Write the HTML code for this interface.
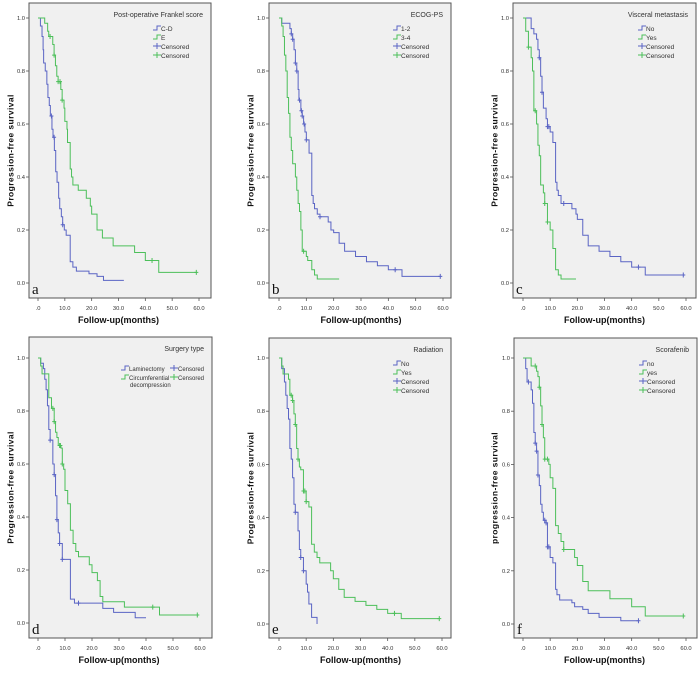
<!DOCTYPE html>
<html><head><meta charset="utf-8">
<style>
html,body{margin:0;padding:0;background:#fff;}
svg{display:block;font-family:"Liberation Sans",sans-serif;}
</style></head>
<body>
<svg id="fig" width="700" height="675" viewBox="0 0 700 675" xmlns="http://www.w3.org/2000/svg"></svg>
<script>
// ---- data: step times (months) and survival after each step, censor times, end time ----
const aBlueT=[0.5,0.9,1.5,1.9,2.1,2.7,3.3,3.7,4.2,4.6,5.2,5.6,6.1,6.6,7.1,7.7,8.1,8.7,9.2,9.8,10.5,12,13,14.3,19,22,24.4];
const aBlueS=[1,0.97,0.93,0.88,0.83,0.8,0.75,0.7,0.67,0.63,0.58,0.55,0.5,0.42,0.38,0.32,0.28,0.25,0.22,0.2,0.18,0.08,0.06,0.045,0.035,0.025,0.01];
const aBlueC=[5.0,6.0,9.2];const aBlueEnd=32;
const aGreenT=[2.5,3,3.6,4,5.5,6,6.5,7,7.5,8.5,9,9.7,10,10.8,11,12,12.5,13,15,18,19.5,20,22,24,28,36,40,45];
const aGreenS=[0.98,0.98,0.95,0.93,0.9,0.86,0.82,0.78,0.76,0.73,0.69,0.66,0.61,0.58,0.53,0.43,0.4,0.37,0.35,0.32,0.29,0.26,0.2,0.17,0.14,0.115,0.085,0.04];
const aGreenC=[4.5,6,7.5,8.2,9,42.5,59];const aGreenEnd=59;

const bBlueT=[1,4,4.5,5,5.5,6,6.5,7,7.3,8,8.5,9,9.5,10,11,12,12.5,13,14,15,18,19,20,22,24,28,32,36,40,45];
const bBlueS=[0.98,0.96,0.94,0.92,0.88,0.83,0.8,0.73,0.69,0.65,0.63,0.6,0.57,0.54,0.49,0.33,0.3,0.28,0.26,0.25,0.23,0.2,0.19,0.15,0.12,0.1,0.08,0.065,0.05,0.025];
const bBlueC=[4.5,5,6,6.5,7.5,8.2,8.5,9.2,10,15,42.5,59];const bBlueEnd=59;
const bGreenT=[1,1.5,2,2.5,3,3.5,4,4.5,5,6,6.5,7,7.5,8,8.5,10,10.5,12,13,14];
const bGreenS=[0.97,0.93,0.86,0.8,0.7,0.64,0.55,0.5,0.45,0.4,0.35,0.3,0.27,0.2,0.12,0.1,0.085,0.05,0.03,0.015];
const bGreenC=[9];const bGreenEnd=22;

const cBlueT=[3,4,5,5.5,6,6.5,7,7.5,8.5,9,10,11,12,12.5,13,14,18,19.5,20,22,24,28,32,36,40,45];
const cBlueS=[0.96,0.94,0.92,0.88,0.85,0.78,0.72,0.66,0.62,0.59,0.57,0.53,0.38,0.35,0.33,0.3,0.28,0.26,0.24,0.18,0.14,0.12,0.1,0.08,0.06,0.03];
const cBlueC=[6,7,9,9.5,15,42.5,59];const cBlueEnd=59;
const cGreenT=[1,2,3,3.5,4,5,5.5,6,6.5,7.5,8,9,10,11,12,13,14];
const cGreenS=[0.95,0.89,0.85,0.8,0.65,0.6,0.52,0.48,0.37,0.34,0.3,0.23,0.2,0.13,0.05,0.03,0.015];
const cGreenC=[2,4.5,8,9];const cGreenEnd=19.5;

const dBlueT=[1,2,2.5,3,3.5,4,4.5,5.5,6,6.5,7,7.5,8,9,12,13.5,24,28,36];
const dBlueS=[0.98,0.96,0.92,0.88,0.82,0.73,0.69,0.6,0.56,0.48,0.39,0.34,0.3,0.24,0.09,0.075,0.055,0.04,0.02];
const dBlueC=[4.5,6,7,8,9,15];const dBlueEnd=40;
const dGreenT=[1,1.5,4,5,6,6.5,7,7.5,8.5,9,9.5,10,11,12,13,14,15,19,20,22,23,24,32,45];
const dGreenS=[0.97,0.94,0.85,0.81,0.76,0.72,0.7,0.67,0.66,0.6,0.58,0.5,0.45,0.35,0.3,0.27,0.25,0.22,0.19,0.16,0.1,0.08,0.06,0.03];
const dGreenC=[5.5,6,8,8.3,9,42.5,59];const dGreenEnd=59;

const eBlueT=[1,2,2.5,3,3.5,4,4.5,5,5.5,6,7,7.5,8,9,10,10.5,11,12,14];
const eBlueS=[0.96,0.91,0.86,0.81,0.77,0.66,0.62,0.55,0.45,0.42,0.35,0.28,0.25,0.2,0.15,0.12,0.075,0.025,0];
const eBlueC=[6,8,9];const eBlueEnd=14;
const eGreenT=[1,1.5,3.5,4,5,5.5,6,6.5,7,7.5,8,9,10,11,12,13,14,15,19,20,22,24,28,32,36,40,45];
const eGreenS=[0.97,0.94,0.92,0.86,0.84,0.79,0.75,0.66,0.62,0.59,0.58,0.5,0.46,0.44,0.3,0.27,0.25,0.23,0.2,0.17,0.13,0.1,0.085,0.07,0.055,0.04,0.02];
const eGreenC=[4.5,5,6,7,9,9.5,10,42.5,59];const eGreenEnd=59;

const fBlueT=[1,1.5,3,3.5,4,4.5,5,5.5,6,6.5,7,7.5,8.5,9,10,11,12,12.5,13.5,18,19,22,24,28,36];
const fBlueS=[0.96,0.91,0.88,0.83,0.72,0.68,0.65,0.56,0.52,0.45,0.42,0.39,0.38,0.29,0.25,0.23,0.13,0.11,0.09,0.08,0.065,0.055,0.04,0.025,0.012];
const fBlueC=[2,4.5,5,5.5,8,8.5,9,9.5,42.5];const fBlueEnd=42.5;
const fGreenT=[3,5,5.5,6,6.5,7,7.5,8,9.5,10,11,12,13,14,15,19,20,22,24,32,40,45];
const fGreenS=[0.97,0.95,0.93,0.89,0.82,0.75,0.7,0.62,0.6,0.55,0.51,0.37,0.34,0.31,0.28,0.25,0.22,0.16,0.125,0.095,0.065,0.03];
const fGreenC=[4.5,6,7,8,9,15,59];const fGreenEnd=59;

const xTicks=[0,10,20,30,40,50,60];
const xTickLabels=[".0","10.0","20.0","30.0","40.0","50.0","60.0"];
const yTicks=[0,0.2,0.4,0.6,0.8,1.0];
const yTickLabels=["0.0","0.2","0.4","0.6","0.8","1.0"];

const NS="http://www.w3.org/2000/svg";
const svg=document.getElementById('fig');
const BLUE="#5a64c4", GREEN="#4cbf5a";
function el(tag,attrs,parent){const e=document.createElementNS(NS,tag);for(const k in attrs)e.setAttribute(k,attrs[k]);(parent||svg).appendChild(e);return e;}

const panels=[
 {id:'a',l:29,t:3,r:211,b:298,x0:38,x60:199,y1:18,y0:283,yt:11,xt:323,title:"Post-operative Frankel score",g1:"C-D",g2:"E",ytl:"Progression-free survival",bT:aBlueT,bS:aBlueS,bC:aBlueC,bE:aBlueEnd,gT:aGreenT,gS:aGreenS,gC:aGreenC,gE:aGreenEnd},
 {id:'b',l:269,t:3,r:451,b:298,x0:279,x60:443,y1:18,y0:283,yt:251,xt:323,title:"ECOG-PS",g1:"1-2",g2:"3-4",ytl:"Progression-free survival",bT:bBlueT,bS:bBlueS,bC:bBlueC,bE:bBlueEnd,gT:bGreenT,gS:bGreenS,gC:bGreenC,gE:bGreenEnd},
 {id:'c',l:513,t:3,r:696,b:298,x0:523,x60:686,y1:18,y0:283,yt:495,xt:323,title:"Visceral metastasis",g1:"No",g2:"Yes",ytl:"Progression-free survival",bT:cBlueT,bS:cBlueS,bC:cBlueC,bE:cBlueEnd,gT:cGreenT,gS:cGreenS,gC:cGreenC,gE:cGreenEnd},
 {id:'d',l:29,t:337,r:212,b:638,x0:38,x60:200,y1:358,y0:623,yt:11,xt:663,title:"Surgery type",g1:"Laminectomy",g2:"Circumferential",ytl:"Progression-free survival",two:true,bT:dBlueT,bS:dBlueS,bC:dBlueC,bE:dBlueEnd,gT:dGreenT,gS:dGreenS,gC:dGreenC,gE:dGreenEnd},
 {id:'e',l:269,t:338,r:451,b:638,x0:279,x60:442,y1:358,y0:624,yt:251,xt:663,title:"Radiation",g1:"No",g2:"Yes",ytl:"Progression-free survival",bT:eBlueT,bS:eBlueS,bC:eBlueC,bE:eBlueEnd,gT:eGreenT,gS:eGreenS,gC:eGreenC,gE:eGreenEnd},
 {id:'f',l:514,t:338,r:697,b:638,x0:523,x60:686,y1:358,y0:624,yt:495,xt:663,title:"Scorafenib",g1:"no",g2:"yes",ytl:"progression-free survival",bT:fBlueT,bS:fBlueS,bC:fBlueC,bE:fBlueEnd,gT:fGreenT,gS:fGreenS,gC:fGreenC,gE:fGreenEnd}
];

function survAt(T,S,t){let s=1;for(let i=0;i<T.length;i++){if(T[i]<=t)s=S[i];}return s;}

function drawCurve(p,g,T,S,C,E,color,name){
 const X=v=>p.x0+(p.x60-p.x0)*v/60, Y=v=>p.y0-(p.y0-p.y1)*v;
 let d="M"+X(0)+","+Y(1);
 for(let i=0;i<T.length;i++){d+=" H"+X(T[i])+" V"+Y(S[i]);}
 d+=" H"+X(E);
 const path=el('path',{d:d,fill:'none',stroke:color,'stroke-width':1},g);
 
 
 for(const c of C){
  const cx=X(c), cy=Y(survAt(T,S,c));
  const m=el('path',{d:`M${cx-2},${cy} H${cx+2} M${cx},${cy-2.5} V${cy+2.5}`,stroke:color,'stroke-width':1},g);
  
  
 }
}

for(const p of panels){
 const g=el('g',{});
 
 
 const bg=el('rect',{x:p.l,y:p.t,width:p.r-p.l,height:p.b-p.t,fill:'#f0f0f0',stroke:'#555','stroke-width':1},g);
 
 
 const X=v=>p.x0+(p.x60-p.x0)*v/60, Y=v=>p.y0-(p.y0-p.y1)*v;
 xTicks.forEach((v,i)=>{
  el('line',{x1:X(v),x2:X(v),y1:p.b,y2:p.b+3,stroke:'#555','stroke-width':0.8},g);
  const t=el('text',{x:X(v),y:p.b+12,'font-size':5.8,'text-anchor':'middle',fill:'#333'},g);
  t.textContent=xTickLabels[i];
  
  
 });
 yTicks.forEach((v,i)=>{
  el('line',{x1:p.l-3,x2:p.l,y1:Y(v),y2:Y(v),stroke:'#555','stroke-width':0.8},g);
  const t=el('text',{x:p.l-4,y:Y(v)+2,'font-size':5.8,'text-anchor':'end',fill:'#333'},g);
  t.textContent=yTickLabels[i];
  
  
 });
 const xt=el('text',{x:(p.x0+p.x60)/2,y:p.xt,'font-size':9,'font-weight':'bold','text-anchor':'middle',fill:'#111'},g);
 xt.textContent="Follow-up(months)";
 
 
 const cy=(p.t+p.b)/2;
 const yt=el('text',{x:p.yt,y:cy,'font-size':8.5,'font-weight':'bold','text-anchor':'middle',fill:'#111','letter-spacing':'0.4',transform:`rotate(-90 ${p.yt} ${cy})`,'dominant-baseline':'middle'},g);
 yt.textContent=p.ytl;
 
 
 drawCurve(p,g,p.bT,p.bS,p.bC,p.bE,BLUE,'group1');
 drawCurve(p,g,p.gT,p.gS,p.gC,p.gE,GREEN,'group2');
 const lt=el('text',{x:p.r-8,y:p.t+14,'font-size':7,'text-anchor':'end',fill:'#333'},g);
 lt.textContent=p.title;
 
 
 let entries;
 if(p.two){
  entries=[[121,p.t+33,BLUE,'step',p.g1],[121,p.t+42,GREEN,'step',p.g2],[170,p.t+33,BLUE,'plus','Censored'],[170,p.t+42,GREEN,'plus','Censored']];
 } else {
  const lx=p.r-58;
  entries=[[lx,p.t+27,BLUE,'step',p.g1],[lx,p.t+36,GREEN,'step',p.g2],[lx,p.t+45,BLUE,'plus','Censored'],[lx,p.t+54,GREEN,'plus','Censored']];
 }
 for(const [x,y,c,k,lab] of entries){
  const lg=el('g',{},g);
  
  
  if(k==='step') el('path',{d:`M${x},${y} H${x+4} V${y-4} H${x+8}`,fill:'none',stroke:c,'stroke-width':1},lg);
  else el('path',{d:`M${x},${y-2} H${x+8} M${x+4},${y-5} V${y+1}`,stroke:c,'stroke-width':1},lg);
  const tx=el('text',{x:x+8,y:y+1,'font-size':p.two?6:6.5,fill:'#333'},lg);
  tx.textContent=lab;
 }
 if(p.two){
  const t2=el('text',{x:130,y:p.t+50,'font-size':6,fill:'#333'},g);
  t2.textContent="decompression";
  
  
 }
 const pl=el('text',{x:p.l+3,y:p.b-4,'font-size':15,'font-family':'"Liberation Serif",serif',fill:'#111'},g);
 pl.textContent=p.id;
 
 
}
</script>
</body></html>
